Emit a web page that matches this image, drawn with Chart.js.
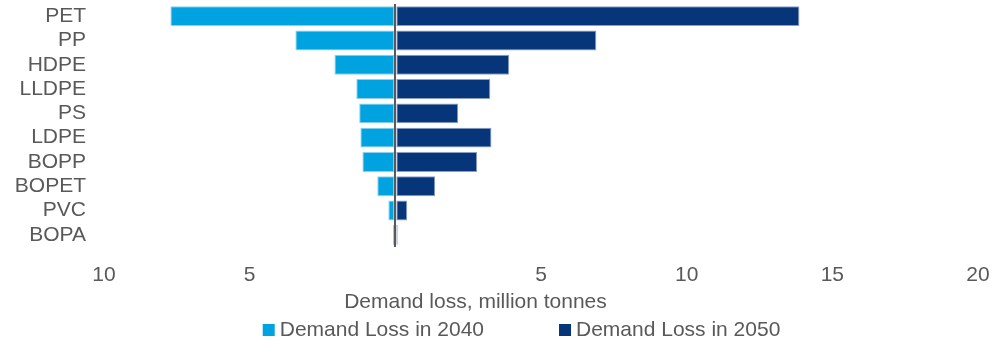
<!DOCTYPE html>
<html>
<head>
<meta charset="utf-8">
<script src="https://cdn.jsdelivr.net/npm/chart.js@4"></script>
<style>
  body { margin: 0; background: #fff; }
  #wrap { width: 1001px; height: 341px; position: relative; }
</style>
</head>
<body>
<div id="wrap"><canvas id="myChart"></canvas></div>
<script>
// polymer types, top to bottom
const polymers = ["PET", "PP", "HDPE", "LLDPE", "PS", "LDPE", "BOPP", "BOPET", "PVC", "BOPA"];
// demand loss, million tonnes (2040 plotted to the left of zero)
const loss2040 = [7.72, 3.43, 2.09, 1.34, 1.24, 1.2, 1.13, 0.62, 0.24, 0.08];
const loss2050 = [13.87, 6.9, 3.91, 3.26, 2.16, 3.3, 2.81, 1.37, 0.41, 0.08];
const xTicks = [-10, -5, 0, 5, 10, 15, 20];
const seriesNames = ["Demand Loss in 2040", "Demand Loss in 2050"];
const axisTitle = "Demand loss, million tonnes";

const grey = "#595959";
const fontFamily = '"Liberation Sans", Arial, sans-serif';

// title + legend drawn under the axis, Excel style spacing
const bottomText = {
  id: "bottomText",
  afterDraw(chart) {
    const c = chart.ctx;
    const W = chart.width;
    const H = chart.height;
    c.save();
    c.font = "21px " + fontFamily;
    c.fillStyle = grey;
    c.textBaseline = "middle";
    c.textAlign = "center";
    c.fillText(axisTitle, W * 0.475, H - 39);

    c.textAlign = "left";
    const box = 12;
    const gap = 75;
    const items = chart.data.datasets.map((ds) => ({
      label: ds.label,
      color: ds.backgroundColor,
      w: box + 5 + c.measureText(ds.label).width,
    }));
    const total = items.reduce((s, it) => s + it.w, 0) + gap * (items.length - 1);
    let x = W * 0.521 - total / 2;
    const y = H - 11;
    items.forEach((it) => {
      c.fillStyle = it.color;
      c.fillRect(x, y - box / 2, box, box);
      c.fillStyle = grey;
      c.fillText(it.label, x + box + 5, y);
      x += it.w + gap;
    });
    c.restore();
  },
};

const ctx = document.getElementById("myChart");

new Chart(ctx, {
  type: "bar",
  data: {
    labels: polymers,
    datasets: [
      {
        label: seriesNames[0],
        data: loss2040.map((v) => -v),
        backgroundColor: "#00A3E0",
        borderColor: "#8fd0f0",
        borderWidth: 1,
        borderSkipped: false,
      },
      {
        label: seriesNames[1],
        data: loss2050,
        backgroundColor: "#063579",
        borderColor: "#8a9fc4",
        borderWidth: 1,
        borderSkipped: false,
      },
    ],
  },
  options: {
    indexAxis: "y",
    responsive: true,
    maintainAspectRatio: false,
    animation: false,
    layout: {
      padding: { top: 4, right: 23, bottom: 53, left: 0 },
    },
    datasets: {
      bar: { categoryPercentage: 0.82, barPercentage: 1 },
    },
    scales: {
      x: {
        stacked: true,
        min: xTicks[0],
        max: xTicks[xTicks.length - 1],
        afterBuildTicks: (scale) => {
          scale.ticks = xTicks.map((v) => ({ value: v }));
        },
        afterFit: (scale) => {
          scale.height = 41;
          scale.paddingLeft = 0;
          scale.paddingRight = 0;
        },
        ticks: {
          color: grey,
          padding: 16,
          maxRotation: 0,
          font: { size: 21, family: fontFamily },
          callback: (v) => (v === 0 ? "" : String(Math.abs(v))),
        },
        grid: {
          drawTicks: false,
          color: (c) => (c.tick && c.tick.value === 0 ? grey : "transparent"),
          lineWidth: 2,
          z: 1,
        },
        border: { display: false },
      },
      y: {
        stacked: true,
        afterFit: (scale) => {
          scale.width = 104;
          scale.paddingTop = 0;
          scale.paddingBottom = 0;
        },
        ticks: {
          color: grey,
          padding: 18,
          autoSkip: false,
          font: { size: 21, family: fontFamily },
        },
        grid: { display: false, drawTicks: false },
        border: { display: false },
      },
    },
    plugins: {
      legend: { display: false },
      tooltip: { enabled: false },
    },
  },
  plugins: [bottomText],
});
</script>
</body>
</html>
